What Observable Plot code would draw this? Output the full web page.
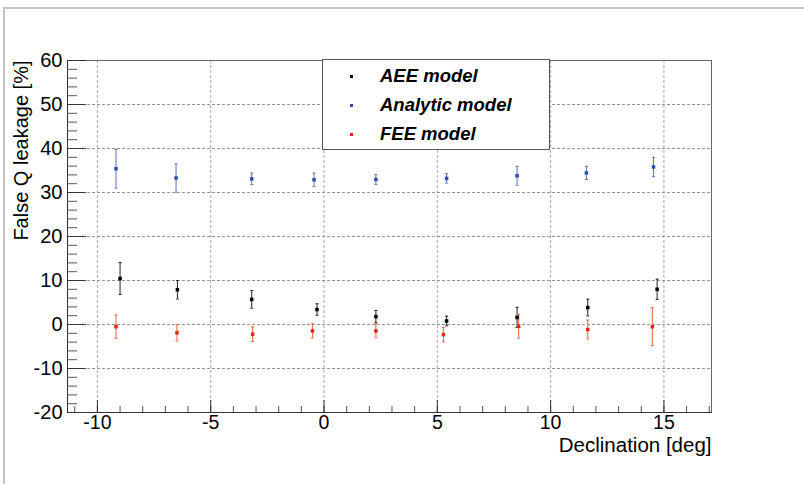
<!DOCTYPE html>
<html>
<head>
<meta charset="utf-8">
<script src="https://cdn.jsdelivr.net/npm/d3@7"></script>
<script src="https://cdn.jsdelivr.net/npm/@observablehq/plot@0.6"></script>
<style>
  html, body { margin: 0; padding: 0; background: #fff; }
  #wrap { position: relative; width: 804px; height: 484px; overflow: hidden; font-family: "Liberation Sans", Arial, sans-serif; }
  #border { position: absolute; left: 3px; top: 7px; width: 810px; height: 490px; border-top: 2px solid #c4c4c4; border-left: 2px solid #c4c4c4; pointer-events: none; }
  #legend { position: absolute; left: 322px; top: 59px; width: 226px; height: 89px; border: 1px solid #555; background: #fff; }
  .lrow { position: absolute; left: 0; height: 20px; width: 226px; }
  .lmark { position: absolute; left: 27px; top: 8px; width: 3px; height: 3px; }
  .ltext { position: absolute; left: 57px; top: -2px; font-weight: bold; font-style: italic; font-size: 18.5px; color: #000; white-space: nowrap; }
</style>
</head>
<body>
<div id="wrap">
  <div id="chart"></div>
  <div id="border"></div>
  <div id="legend"></div>
</div>
<script>
// ---- data ----
const seriesNames = ["AEE model", "Analytic model", "FEE model"];
const seriesColors = ["#000000", "#2f4fb0", "#e3261f"];
const barColors = ["#222222", "#5a72c2", "#e8653f"];

const decAEE = [-9.0, -6.47, -3.19, -0.31, 2.29, 5.41, 8.52, 11.64, 14.70];
const valAEE = [10.45, 7.9, 5.7, 3.4, 1.8, 0.8, 1.6, 3.85, 8.0];
const errAEE = [3.6, 2.1, 2.0, 1.3, 1.4, 1.1, 2.3, 1.9, 2.3];

const decAna = [-9.18, -6.53, -3.19, -0.44, 2.29, 5.41, 8.52, 11.58, 14.54];
const valAna = [35.4, 33.3, 33.1, 32.9, 32.95, 33.2, 33.8, 34.45, 35.8];
const errAna = [4.4, 3.2, 1.3, 1.5, 1.1, 1.05, 2.15, 1.5, 2.2];

const decFEE = [-9.18, -6.49, -3.15, -0.51, 2.29, 5.27, 8.59, 11.64, 14.49];
const valFEE = [-0.5, -1.9, -2.2, -1.45, -1.45, -2.3, -0.4, -1.15, -0.5];
const errFEE = [2.65, 1.85, 1.65, 1.6, 1.6, 1.65, 2.7, 2.15, 4.3];

const xMajorTicks = [-10, -5, 0, 5, 10, 15];
const xMinorTicks = d3.range(-11, 18, 1);
const yMajorTicks = [-20, -10, 0, 10, 20, 30, 40, 50, 60];
const yMinorTicks = d3.range(-20, 61, 2);
const xDomain = [-11.32, 17.1];
const yDomain = [-20, 60];
const xTitle = "Declination [deg]";
const yTitle = "False Q leakage [%]";

// ---- build table ----
const groups = [[decAEE, valAEE, errAEE], [decAna, valAna, errAna], [decFEE, valFEE, errFEE]];
const rows = [];
groups.forEach(([xs, vs, es], s) => {
  xs.forEach((x, i) => rows.push({series: seriesNames[s], s, x, v: vs[i], lo: vs[i] - es[i], hi: vs[i] + es[i]}));
});

const capSymbol = { draw(ctx, size) { ctx.moveTo(-1.5, 0); ctx.lineTo(1.5, 0); } };
const font = "Liberation Sans, Arial, sans-serif";
const fmt = d => String(d);

const chart = Plot.plot({
  width: 804,
  height: 484,
  marginLeft: 67,
  marginRight: 93,
  marginTop: 60,
  marginBottom: 72,
  style: { fontFamily: font, fontSize: "18px", color: "#000", background: "transparent" },
  x: { domain: xDomain },
  y: { domain: yDomain },
  marks: [
    Plot.gridX(xMajorTicks, { stroke: "#a8a8a8", strokeOpacity: 1, strokeDasharray: "3,2" }),
    Plot.gridY(yMajorTicks, { stroke: "#959595", strokeOpacity: 1, strokeDasharray: "3,2" }),
    Plot.frame({ stroke: "#666" }),
    Plot.ruleX([xDomain[0]], { stroke: "#333" }),
    Plot.ruleY([yDomain[0]], { stroke: "#333" }),
    // y ticks (inward)
    Plot.axisY({ anchor: "left", ticks: yMinorTicks, tickSize: -10, tickFormat: () => "", stroke: "#555", label: null }),
    Plot.axisY({ anchor: "left", ticks: yMajorTicks, tickSize: -19, tickFormat: () => "", stroke: "#333", label: null }),
    Plot.axisY({ anchor: "left", ticks: yMajorTicks, tickSize: 0, tickPadding: 5, fontSize: 20, tickFormat: fmt, label: null }),
    // x ticks (inward)
    Plot.axisX({ anchor: "bottom", ticks: xMinorTicks, tickSize: -6, tickFormat: () => "", stroke: "#555", label: null }),
    Plot.axisX({ anchor: "bottom", ticks: xMajorTicks, tickSize: 0, tickPadding: 3, fontSize: 19.5, tickFormat: fmt, label: null }),
    Plot.axisX({ anchor: "bottom", ticks: xMajorTicks, tickSize: -12, tickFormat: () => "", stroke: "#333", label: null }),
    // titles
    Plot.text([xTitle], { frameAnchor: "bottom-right", text: d => d, textAnchor: "end", dy: 39, fontSize: 20.5, fill: "#000" }),
    Plot.text([yTitle], { frameAnchor: "top-left", text: d => d, textAnchor: "end", rotate: -90, dx: -54, dy: 0, fontSize: 20, fill: "#000" }),
    // error bars
    Plot.ruleX(rows, { x: "x", y1: "lo", y2: "hi", stroke: d => barColors[d.s], strokeWidth: 1 }),
    Plot.dot(rows, { x: "x", y: "lo", symbol: capSymbol, stroke: d => barColors[d.s], strokeWidth: 1 }),
    Plot.dot(rows, { x: "x", y: "hi", symbol: capSymbol, stroke: d => barColors[d.s], strokeWidth: 1 }),
    // markers
    Plot.dot(rows, { x: "x", y: "v", symbol: "square", r: 2, fill: d => seriesColors[d.s], stroke: "none" })
  ]
});
document.getElementById("chart").appendChild(chart);

// legend
const legend = document.getElementById("legend");
const rowTops = [7, 36, 65];
seriesNames.forEach((name, i) => {
  const r = document.createElement("div");
  r.className = "lrow";
  r.style.top = rowTops[i] + "px";
  const m = document.createElement("div");
  m.className = "lmark";
  m.style.background = seriesColors[i];
  const t = document.createElement("div");
  t.className = "ltext";
  t.textContent = name;
  r.appendChild(m); r.appendChild(t);
  legend.appendChild(r);
});
</script>
</body>
</html>
